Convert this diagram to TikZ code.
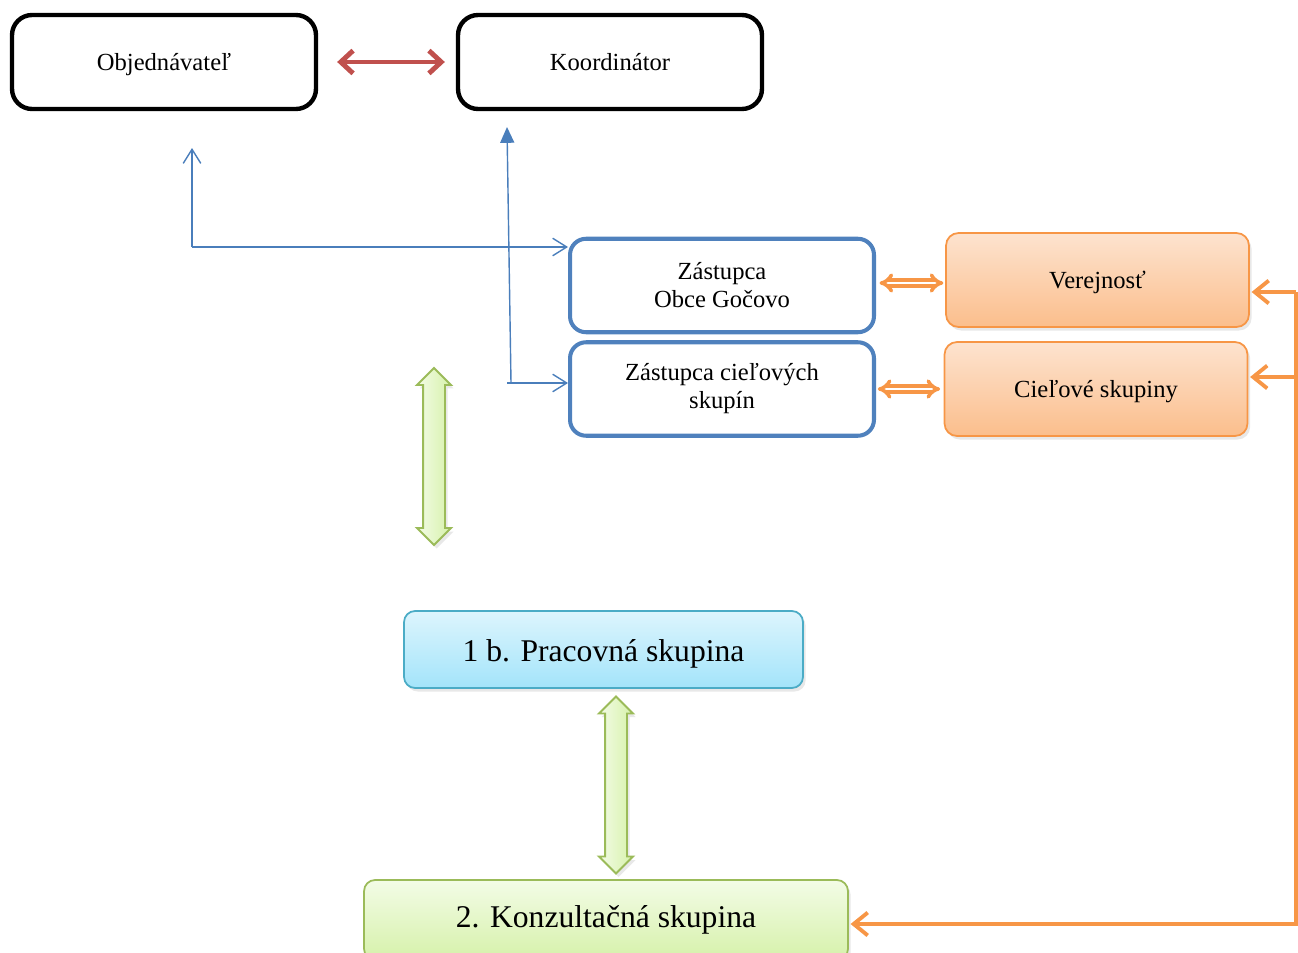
\documentclass[tikz,border=0pt]{standalone}
\usepackage{fontspec}
\setmainfont{Liberation Serif}
\usetikzlibrary{arrows.meta,shapes.arrows,shadows}

\definecolor{redarr}{HTML}{C0504D}
\definecolor{bluearr}{HTML}{4A7EBB}
\definecolor{blueframe}{HTML}{4F81BD}
\definecolor{orangeline}{HTML}{F79646}
\definecolor{orangetop}{HTML}{FDE3CF}
\definecolor{orangebot}{HTML}{FBBE8C}
\definecolor{cyanline}{HTML}{4BACC6}
\definecolor{cyantop}{HTML}{DDF5FD}
\definecolor{cyanbot}{HTML}{A3E4FA}
\definecolor{greenline}{HTML}{9BBB59}
\definecolor{greentop}{HTML}{F3FCE6}
\definecolor{greenbot}{HTML}{D6F1AA}

\tikzset{
  boxfont/.style={font=\fontsize{14}{16}\selectfont},
  bigfont/.style={font=\fontsize{18}{21}\selectfont},
  softshadow/.style={drop shadow={opacity=0.18, shadow xshift=1.5pt, shadow yshift=-2pt}},
  blackbox/.style={boxfont, draw=black, line width=2.5pt, rounded corners=0.4cm,
    minimum width=6.08cm, minimum height=1.88cm, text height=9.6pt, text depth=0pt},
  bluebox/.style={boxfont, draw=blueframe, line width=2.3pt, rounded corners=0.32cm,
    minimum width=6.08cm, minimum height=1.87cm, align=center},
  orangebox/.style={boxfont, softshadow, draw=orangeline, line width=1pt, rounded corners=0.25cm,
    top color=orangetop, bottom color=orangebot, minimum width=6.06cm, minimum height=1.88cm,
    text height=9.6pt, text depth=0pt},
  cyanbox/.style={bigfont, softshadow, draw=cyanline, line width=1pt, rounded corners=0.22cm,
    top color=cyantop, bottom color=cyanbot, minimum width=7.98cm, minimum height=1.54cm,
    text height=15pt, text depth=1pt},
  greenbox/.style={bigfont, softshadow, draw=greenline, line width=1pt, rounded corners=0.22cm,
    top color=greentop, bottom color=greenbot, minimum width=9.68cm, minimum height=1.6cm},
  greenarrow/.style={shape=double arrow, rotate=90, softshadow, draw=greenline, line width=1.1pt,
    left color=greentop, right color=greenbot, inner xsep=0pt, inner ysep=0.2cm,
    double arrow head extend=0.12cm, minimum height=3.54cm},
  bluearrow/.style={draw=bluearr, line width=0.8pt},
  bluetip/.style={-{Straight Barb[length=8pt,width=10pt]}},
  orangearrow/.style={draw=orangeline, line width=2.2pt, -{Straight Barb[length=8pt,width=13pt]}},
  dblarrow/.style={draw=orangeline, line width=2pt, double=white, double distance=1.4pt,
    {Implies}-{Implies}},
}

\begin{document}
\begin{tikzpicture}[x=0.02cm, y=-0.02cm]
  \useasboundingbox (0,0) rectangle (1298,953);
  \clip (0,0) rectangle (1298,953);

  % Top boxes
  \node[blackbox] (obj) at (164,62) {Objednávateľ};
  \node[blackbox] (koo) at (610,62) {Koordinátor};
  \draw[redarr, line width=2.8pt, {Straight Barb[length=7pt,width=13pt]}-{Straight Barb[length=7pt,width=13pt]},
    shorten <=0.38cm, shorten >=0.22cm] (obj.east) -- (koo.west);

  % Zastupcovia
  \node[bluebox] (zob) at (722,285.5) {Zástupca\\Obce Gočovo};
  \node[bluebox] (zcs) at (722,389) {Zástupca cieľových\\skupín};

  % Verejnost a cielove skupiny
  \node[orangebox] (ver) at (1097.5,280) {Verejnosť};
  \node[orangebox] (cie) at (1096,389) {Cieľové skupiny};
  \draw[dblarrow] ([xshift=2pt]zob.east |- 0,283) -- ([xshift=-1pt]ver.west |- 0,283);
  \draw[dblarrow] ([xshift=1pt]zcs.east) -- ([xshift=-2pt]cie.west);

  % Blue arrows
  \coordinate (objtip) at (192,148);
  \coordinate (objbend) at (192,247);
  \coordinate (kootip) at (507,127);
  \coordinate (koofoot) at (511,383);
  \draw[bluearrow, bluetip] (objbend) -- (objtip);
  \draw[bluearrow, bluetip] (objbend) -- (zob.west |- objbend);
  \draw[bluearrow, -{Triangle[length=9pt,width=8pt]}] (koofoot) -- (kootip);
  \draw[bluearrow, bluetip] (507,383) -- (zcs.west |- koofoot);

  % Working groups
  \node[greenarrow] (garr1) at (434,456.5) {};
  \node[cyanbox] (pra) at (603.5,649.5) {1 b. Pracovná skupina};
  \node[greenarrow] (garr2) at (616,785) {};
  \node[greenbox] (kon) at (606,920) {2. Konzultačná skupina};

  % Orange feedback line
  \coordinate (rtop) at (1296,292);
  \coordinate (rmid) at (1296,377);
  \coordinate (rbot) at (1296,924);
  \draw[orangearrow] (rtop) -- ([xshift=1pt]ver.east |- rtop);
  \draw[orangearrow] (rmid) -- ([xshift=1pt]cie.east |- rmid);
  \draw[orangearrow, line join=miter] (rtop) -- (rbot) -- ([xshift=1pt]kon.east |- rbot);

\end{tikzpicture}
\end{document}
